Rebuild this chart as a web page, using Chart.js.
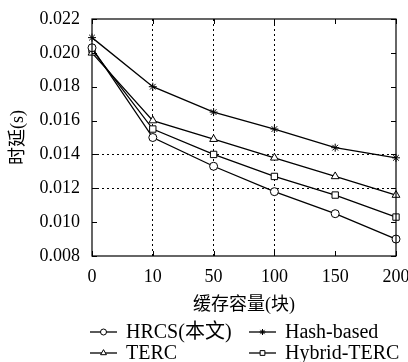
<!DOCTYPE html>
<html>
<head>
<meta charset="utf-8">
<script src="https://cdn.jsdelivr.net/npm/chart.js@4/dist/chart.umd.min.js"></script>
<style>
  html, body { margin: 0; padding: 0; background: #fff; }
  #wrap { width: 408px; height: 362px; }
</style>
</head>
<body>
<div id="wrap"><canvas id="myChart" width="408" height="362"></canvas></div>
<script>
// x categories (cache size in blocks)
const capacity = ["0", "10", "50", "100", "150", "200"];
// delay in seconds
const hrcs = [0.0203, 0.0150, 0.0133, 0.0118, 0.0105, 0.0090];
const terc = [0.0200, 0.0160, 0.0149, 0.0138, 0.0127, 0.0116];
const hashBased = [0.0209, 0.0180, 0.0165, 0.0155, 0.0144, 0.0138];
const hybridTerc = [0.0202, 0.0155, 0.0140, 0.0127, 0.0116, 0.0103];
const yTicks = [0.008, 0.010, 0.012, 0.014, 0.016, 0.018, 0.020, 0.022];
// which grid lines are shown dotted
const xGridAt = ["10", "50", "100"];
const yGridAt = [0.012, 0.014];

const fontFam = "'Liberation Serif', 'Noto Sans CJK SC', serif";
const fontSize = 18;
const keyFontSize = 20;

function makeSet(label, data, style, radius) {
  return {
    label: label,
    data: data,
    borderColor: "#000",
    borderWidth: 1.3,
    pointStyle: style,
    pointRadius: radius,
    pointBorderWidth: 1,
    pointBorderColor: "#000",
    pointBackgroundColor: "#fff",
    fill: false,
    tension: 0,
  };
}

// inward ticks on all sides + frame
const frameTicks = {
  id: "frameTicks",
  afterDatasetsDraw(chart) {
    const ctx = chart.ctx;
    const a = chart.chartArea;
    const xs = chart.scales.x;
    const ys = chart.scales.y;
    const len = 5;
    ctx.save();
    ctx.strokeStyle = "#000";
    ctx.lineWidth = 1;
    ctx.beginPath();
    xs.ticks.forEach((t, i) => {
      const px = Math.round(xs.getPixelForTick(i)) + 0.5;
      ctx.moveTo(px, a.bottom);
      ctx.lineTo(px, a.bottom - len);
      ctx.moveTo(px, a.top);
      ctx.lineTo(px, a.top + len);
    });
    ys.ticks.forEach((t, i) => {
      const py = Math.round(ys.getPixelForTick(i)) + 0.5;
      ctx.moveTo(a.left, py);
      ctx.lineTo(a.left + len, py);
      ctx.moveTo(a.right, py);
      ctx.lineTo(a.right - len, py);
    });
    ctx.stroke();
    ctx.lineWidth = 1.2;
    ctx.strokeRect(a.left, a.top, a.right - a.left, a.bottom - a.top);
    ctx.restore();
  },
};

// gnuplot-like key: 2 columns, line with marker in the middle
const keyBox = {
  id: "keyBox",
  afterDraw(chart, args, opts) {
    const ctx = chart.ctx;
    ctx.save();
    ctx.font = keyFontSize + "px " + fontFam;
    ctx.textBaseline = "middle";
    chart.data.datasets.forEach((ds, i) => {
      const col = opts.order[i][0];
      const row = opts.order[i][1];
      const x0 = opts.colX[col];
      const y = opts.rowY[row];
      ctx.strokeStyle = "#000";
      ctx.lineWidth = 1.3;
      ctx.beginPath();
      ctx.moveTo(x0, y);
      ctx.lineTo(x0 + opts.lineLen, y);
      ctx.stroke();
      ctx.lineWidth = 1;
      ctx.fillStyle = "#fff";
      Chart.helpers.drawPoint(
        ctx,
        { pointStyle: ds.pointStyle, radius: ds.pointRadius * 0.75, borderWidth: 1 },
        x0 + opts.lineLen / 2,
        y
      );
      ctx.fillStyle = "#000";
      ctx.fillText(ds.label, x0 + opts.lineLen + opts.gap, y + 1);
    });
    ctx.restore();
  },
};

new Chart("myChart", {
  type: "line",
  data: {
    labels: capacity,
    datasets: [
      makeSet("HRCS(本文)", hrcs, "circle", 4),
      makeSet("TERC", terc, "triangle", 4.5),
      makeSet("Hash-based", hashBased, "star", 4),
      makeSet("Hybrid-TERC", hybridTerc, "rect", 4.5),
    ],
  },
  plugins: [frameTicks, keyBox],
  options: {
    responsive: false,
    animation: false,
    layout: { padding: { top: 19, right: 12, bottom: 46, left: 0 } },
    plugins: {
      legend: { display: false },
      tooltip: { enabled: false },
      keyBox: {
        colX: [90, 249],
        rowY: [332, 353],
        lineLen: 27,
        gap: 9,
        // [column, row] for each dataset
        order: [
          [0, 0],
          [0, 1],
          [1, 0],
          [1, 1],
        ],
      },
    },
    scales: {
      x: {
        type: "category",
        offset: false,
        border: { display: false, dash: [2, 3] },
        grid: {
          drawTicks: false,
          color: (c) =>
            c.tick && xGridAt.includes(capacity[c.index]) ? "#000" : "rgba(0,0,0,0)",
          lineWidth: 1,
        },
        ticks: {
          color: "#000",
          padding: 10,
          maxRotation: 0,
          autoSkip: false,
          font: { family: fontFam, size: fontSize },
        },
        title: {
          display: true,
          text: "缓存容量(块)",
          color: "#000",
          padding: { top: 0, bottom: 0 },
          font: { family: fontFam, size: fontSize },
        },
        afterFit(scale) {
          scale.height = 60;
          scale.paddingLeft = 0;
          scale.paddingRight = 0;
        },
      },
      y: {
        min: 0.008,
        max: 0.022,
        border: { display: false, dash: [2, 3] },
        afterBuildTicks(scale) {
          scale.ticks = yTicks.map((v) => ({ value: v }));
        },
        grid: {
          drawTicks: false,
          color: (c) =>
            c.tick && yGridAt.some((g) => Math.abs(g - c.tick.value) < 1e-9)
              ? "#000"
              : "rgba(0,0,0,0)",
          lineWidth: 1,
        },
        ticks: {
          color: "#000",
          padding: 12,
          font: { family: fontFam, size: fontSize },
          callback: (v) => Number(v).toFixed(3),
        },
        title: {
          display: true,
          text: "时延(s)",
          color: "#000",
          padding: { top: 7, bottom: 7 },
          font: { family: fontFam, size: fontSize },
        },
        afterFit(scale) {
          scale.width = 92;
          scale.paddingTop = 0;
          scale.paddingBottom = 0;
        },
      },
    },
  },
});
</script>
</body>
</html>
